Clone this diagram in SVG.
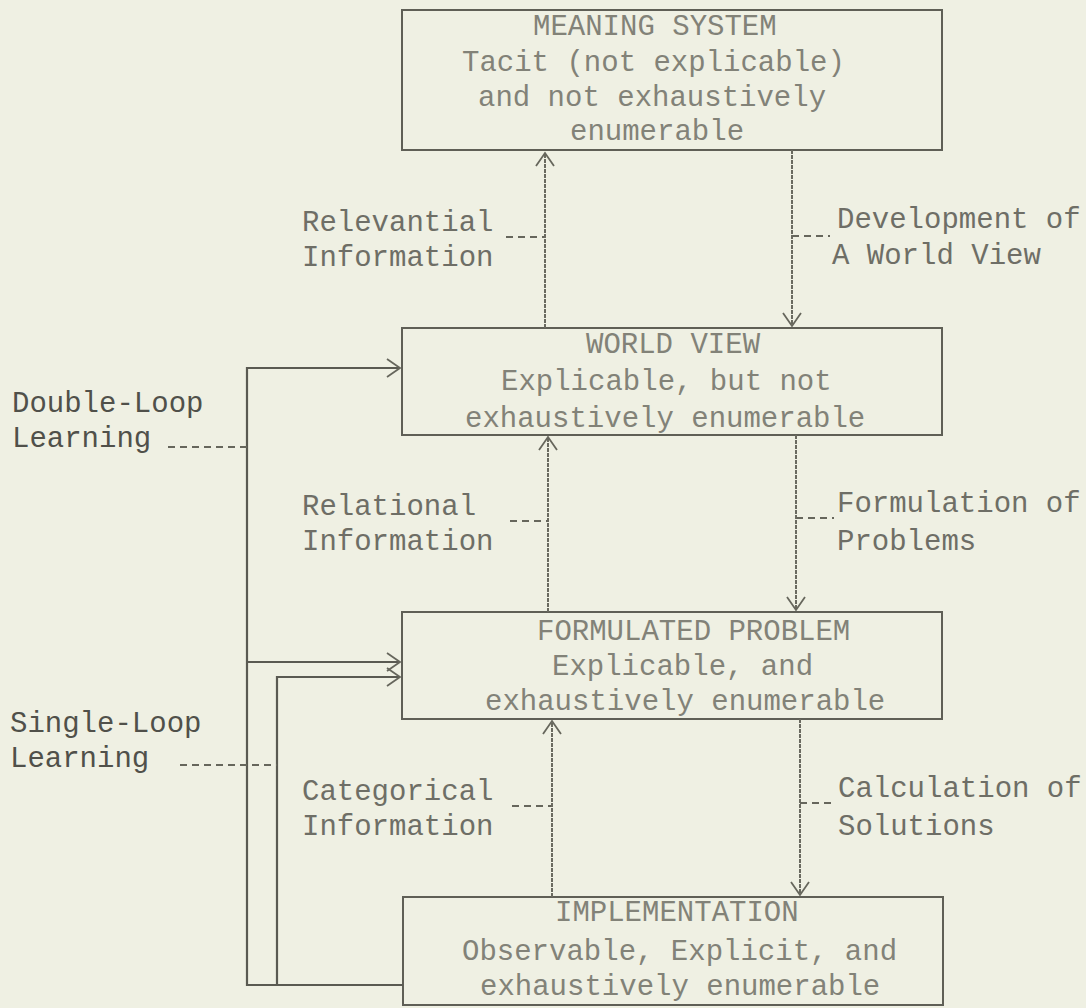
<svg xmlns="http://www.w3.org/2000/svg" width="1086" height="1008" viewBox="0 0 1086 1008">
<defs>
<marker id="ah" markerWidth="24" markerHeight="24" refX="0" refY="0" viewBox="-14 -12 16 24" orient="auto" markerUnits="userSpaceOnUse">
<path d="M-13,-9 L0,0 L-13,9" fill="none" stroke="#66665c" stroke-width="1.8"/>
</marker>
<style>
.bx{fill:none;stroke:#5f5f56;stroke-width:2}
.bt{font-family:"Liberation Mono","Courier New",monospace;font-size:29px;fill:#828278}
.mt{font-family:"Liberation Mono","Courier New",monospace;font-size:29px;fill:#6e6e66}
.lt{font-family:"Liberation Mono","Courier New",monospace;font-size:29px;fill:#50504a}
.cn{fill:none;stroke:#6a6a60;stroke-width:2;stroke-dasharray:4 1}
.lp{fill:none;stroke:#5a5a52;stroke-width:2.2}
.dl{fill:none;stroke:#66665c;stroke-width:2;stroke-dasharray:7 5}
</style>
</defs>
<rect width="1086" height="1008" fill="#eff0e3"/>
<g id="meaning-system">
<rect class="bx" x="402" y="10" width="540" height="140"/>
<text class="bt" x="533" y="35">MEANING SYSTEM</text>
<text class="bt" x="462" y="71">Tacit (not explicable)</text>
<text class="bt" x="478" y="106">and not exhaustively</text>
<text class="bt" x="570" y="140">enumerable</text>
</g>
<g id="world-view">
<rect class="bx" x="402" y="328" width="540" height="107"/>
<text class="bt" x="586" y="353">WORLD VIEW</text>
<text class="bt" x="501" y="390">Explicable, but not</text>
<text class="bt" x="465" y="427">exhaustively enumerable</text>
</g>
<g id="formulated-problem">
<rect class="bx" x="402" y="612" width="540" height="107"/>
<text class="bt" x="537" y="640">FORMULATED PROBLEM</text>
<text class="bt" x="552" y="675">Explicable, and</text>
<text class="bt" x="485" y="710">exhaustively enumerable</text>
</g>
<g id="implementation">
<rect class="bx" x="403" y="897" width="540" height="108"/>
<text class="bt" x="555" y="921">IMPLEMENTATION</text>
<text class="bt" x="462" y="960">Observable, Explicit, and</text>
<text class="bt" x="480" y="995">exhaustively enumerable</text>
</g>
<g id="labels">
<text class="mt" x="302" y="231">Relevantial</text>
<text class="mt" x="302" y="266">Information</text>
<text class="mt" x="837" y="228">Development of</text>
<text class="mt" x="832" y="264">A World View</text>
<text class="mt" x="302" y="515">Relational</text>
<text class="mt" x="302" y="550">Information</text>
<text class="mt" x="837" y="512">Formulation of</text>
<text class="mt" x="837" y="550">Problems</text>
<text class="mt" x="302" y="800">Categorical</text>
<text class="mt" x="302" y="835">Information</text>
<text class="mt" x="838" y="797">Calculation of</text>
<text class="mt" x="838" y="835">Solutions</text>
<text class="lt" x="12" y="412">Double-Loop</text>
<text class="lt" x="12" y="447">Learning</text>
<text class="lt" x="10" y="732">Single-Loop</text>
<text class="lt" x="10" y="767">Learning</text>
</g>
<g id="connectors">
<path class="cn" d="M545,328 L545,153" marker-end="url(#ah)"/>
<path class="cn" d="M792,150 L792,326" marker-end="url(#ah)"/>
<path class="cn" d="M548,612 L548,437" marker-end="url(#ah)"/>
<path class="cn" d="M796,435 L796,610" marker-end="url(#ah)"/>
<path class="cn" d="M552,897 L552,721" marker-end="url(#ah)"/>
<path class="cn" d="M800,719 L800,895" marker-end="url(#ah)"/>
<path class="lp" d="M403,985 L247,985 L247,368 L400,368" marker-end="url(#ah)"/>
<path class="lp" d="M247,662 L400,662" marker-end="url(#ah)"/>
<path class="lp" d="M277,985 L277,677 L400,677" marker-end="url(#ah)"/>
<path class="dl" d="M506,237 L545,237"/>
<path class="dl" d="M510,521 L548,521"/>
<path class="dl" d="M512,806 L552,806"/>
<path class="dl" d="M792,236 L830,236"/>
<path class="dl" d="M796,518 L834,518"/>
<path class="dl" d="M800,803 L836,803"/>
<path class="dl" d="M168,447 L247,447"/>
<path class="dl" d="M180,765 L277,765"/>
</g>
</svg>
